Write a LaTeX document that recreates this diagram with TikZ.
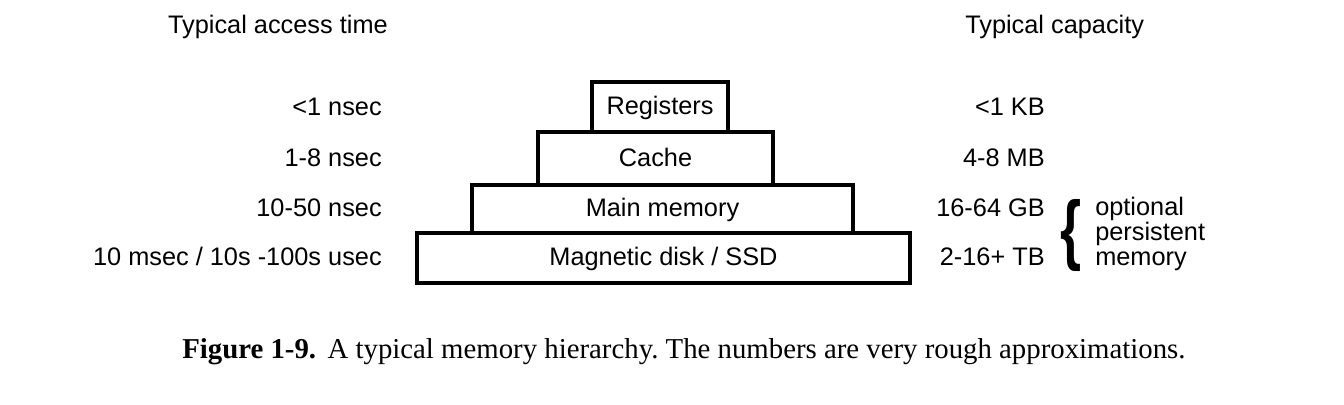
\documentclass[tikz,border=0pt]{standalone}
\usepackage{fontspec}
\setmainfont{Liberation Sans}
\newfontfamily\capfont{Liberation Serif}
\usetikzlibrary{positioning}

\begin{document}
\frenchspacing
\begin{tikzpicture}[x=0.75pt, y=-0.75pt,
  tier/.style={draw, line width=2.3pt, inner sep=0pt, text height=13.5pt, text depth=2pt, font=\fontsize{19}{22}\selectfont},
  lbl/.style={inner sep=0pt, font=\fontsize{19}{22}\selectfont}]
\begin {scope}
  \useasboundingbox (0,0) rectangle (1344,404);
  % headers
  \node [lbl, anchor=base east] (hdtime) at (388,33) {Typical access time};
  \node [lbl, anchor=base west] (hdcap) at (965,33) {Typical capacity};
  % the hierarchy
  \node [tier, minimum width=102pt, minimum height=37.5pt] (reg) at (660,107) {Registers};
  \node [tier, minimum width=176.25pt, minimum height=39.75pt] (cache) at (655.5,158.5) {Cache};
  \node [tier, minimum width=285.75pt, minimum height=36pt] (mem) at (662.5,209) {Main memory};
  \node [tier, minimum width=369.75pt, minimum height=37.5pt] (disk) at (663.5,258) {Magnetic disk / SSD};
  % access times
  \node [lbl, anchor=base east] (treg) at (382,115) {<1 nsec};
  \node [lbl, anchor=base east] (tcache) at (382,166) {1-8 nsec};
  \node [lbl, anchor=base east] (tmem) at (382,216) {10-50 nsec};
  \node [lbl, anchor=base east] (tdisk) at (382,265) {10 msec / 10s -100s usec};
  % capacities
  \node [lbl, anchor=base east] (creg) at (1045,115) {<1 KB};
  \node [lbl, anchor=base east] (ccache) at (1045,166) {4-8 MB};
  \node [lbl, anchor=base east] (cmem) at (1045,216) {16-64 GB};
  \node [lbl, anchor=base east] (cdisk) at (1045,265) {2-16+ TB};
  \node [inner sep=0pt, xscale=0.7, transform shape, font=\bfseries\fontsize{58}{60}\selectfont] (brace) at (1071,235) {\{};
  \node [lbl, anchor=west, align=left, font=\fontsize{19}{18.5}\selectfont] (persist) at (1095,234) {optional\\persistent\\memory};
  % caption
  \node [inner sep=0pt, anchor=base west, font=\capfont\fontsize{21.6}{24}\selectfont] (caption) at (182,358)
    {\textbf{Figure 1-9.}\hspace{0.4em}A typical memory hierarchy. The numbers are very rough approximations.};
\end {scope}
\end{tikzpicture}
\end{document}
